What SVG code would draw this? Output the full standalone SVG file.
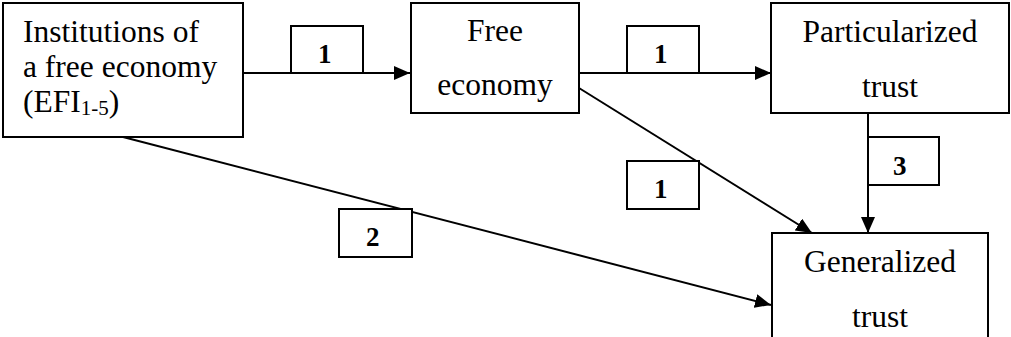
<svg xmlns="http://www.w3.org/2000/svg" width="1011" height="337" viewBox="0 0 1011 337">
<style>
.box{fill:#fff;stroke:#000;stroke-width:2}
.lbl{fill:#fff;stroke:#000;stroke-width:2}
.t{font-family:"Liberation Serif","Times New Roman",serif;font-size:31.5px;fill:#000}
.n{font-family:"Liberation Serif","Times New Roman",serif;font-size:27px;font-weight:bold;fill:#000}
.c{stroke:#000;stroke-width:2;fill:none}
</style>
<defs>
<marker id="ah" viewBox="0 0 16 14" refX="16" refY="7" markerWidth="16" markerHeight="14" markerUnits="userSpaceOnUse" orient="auto">
<path d="M0,0 L16,7 L0,14 Z" fill="#000"/>
</marker>
</defs>
<g id="connectors">
<line class="c" x1="243" y1="73" x2="410" y2="73" marker-end="url(#ah)"/>
<line class="c" x1="579" y1="73" x2="771" y2="73" marker-end="url(#ah)"/>
<line class="c" x1="868" y1="113" x2="868" y2="233" marker-end="url(#ah)"/>
<line class="c" x1="579" y1="88" x2="812" y2="233" marker-end="url(#ah)"/>
<line class="c" x1="123" y1="137" x2="771" y2="305" marker-end="url(#ah)"/>
<g id="label-1a"><rect class="lbl" x="291" y="26" width="72" height="47"/><text class="n" x="318" y="63">1</text></g>
<g id="label-1b"><rect class="lbl" x="627" y="26" width="72" height="47"/><text class="n" x="654" y="63">1</text></g>
<g id="label-1c"><rect class="lbl" x="627" y="161" width="72" height="48"/><text class="n" x="654" y="198">1</text></g>
<g id="label-3"><rect class="lbl" x="868" y="137" width="71" height="48"/><text class="n" x="893" y="175">3</text></g>
<g id="label-2"><rect class="lbl" x="339" y="209" width="73" height="48"/><text class="n" x="366" y="246">2</text></g>
</g>
<g id="node-institutions">
<rect class="box" x="3" y="3" width="240" height="134"/>
<text class="t" x="23" y="42">Institutions of</text>
<text class="t" x="23" y="77">a free economy</text>
<text class="t" x="23" y="112">(EFI<tspan font-size="21" dy="3">1-5</tspan><tspan dy="-3">)</tspan></text>
</g>
<g id="node-free-economy">
<rect class="box" x="411" y="3" width="168" height="110"/>
<text class="t" x="495" y="41" text-anchor="middle">Free</text>
<text class="t" x="495" y="95" text-anchor="middle">economy</text>
</g>
<g id="node-particularized">
<rect class="box" x="771" y="3" width="238" height="110"/>
<text class="t" x="890" y="42" text-anchor="middle">Particularized</text>
<text class="t" x="890" y="97" text-anchor="middle">trust</text>
</g>
<g id="node-generalized">
<rect class="box" x="772" y="233" width="216" height="120"/>
<text class="t" x="880" y="272" text-anchor="middle">Generalized</text>
<text class="t" x="880" y="327" text-anchor="middle">trust</text>
</g>
</svg>
